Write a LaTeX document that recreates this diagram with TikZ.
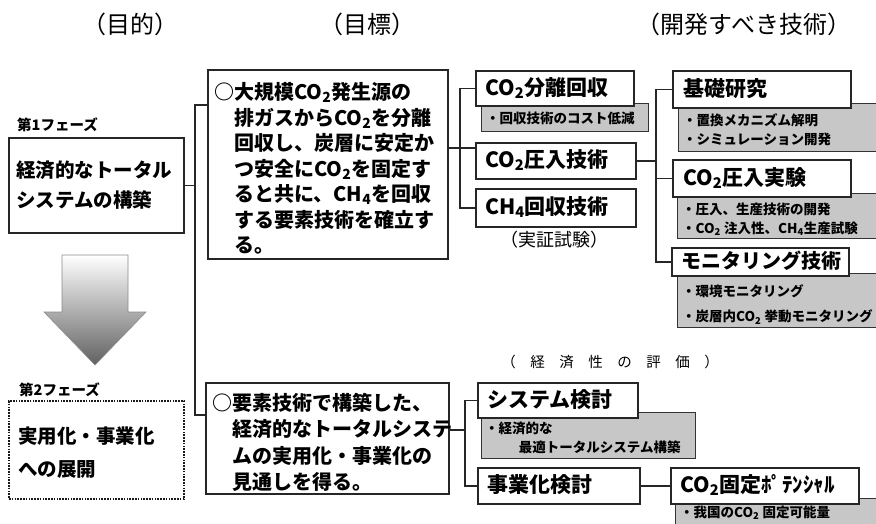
\documentclass[tikz,border=0pt]{standalone}
\usepackage{fontspec}
\setmainfont{Noto Sans CJK JP}
\newcommand\fs[2]{\fontsize{#1}{#2}\selectfont}
\newcommand\bx[6]{\node[#1, minimum width=#4-#2, minimum height=#5-#3] (#6) at (#2,#3) {};}
\begin{document}
\begin{tikzpicture}[x=1pt,y=-1pt,
  wbox/.style={draw=black!85, line width=1.6pt, fill=white, inner sep=0pt, anchor=north west},
  gbox/.style={draw=black!80, line width=1.3pt, fill=black!22, inner sep=0pt, anchor=north west},
  dbox/.style={draw=black!90, line width=1.8pt, dash pattern=on 1.6pt off 1.2pt, fill=white, inner sep=0pt, anchor=north west},
  conn/.style={draw=black!85, line width=1.6pt},
  hdr/.style={inner sep=0pt, font=\fs{24}{28}},
  lab/.style={inner sep=0pt, anchor=west, font=\bfseries\fs{14.5}{17}},
  big/.style={inner sep=0pt, anchor=west, align=left, font=\bfseries\fs{20}{25.5}},
  ttl/.style={inner sep=0pt, anchor=west, font=\bfseries\fs{21}{25}},
  sml/.style={inner sep=0pt, anchor=west, align=left, font=\bfseries\fs{13.5}{19}},
]
\useasboundingbox (0,0) rectangle (876,523);
\clip (0,0) rectangle (876,523);
\fill[white] (0,0) rectangle (876,523);

% headers
\node[hdr] (h1) at (130,24) {（目的）};
\node[hdr] (h2) at (367,24) {（目標）};
\node[hdr] (h3) at (744,24) {（開発すべき技術）};

% connector helper coordinates
\coordinate (a1) at (195,105);
\coordinate (a2) at (195,415);
\coordinate (bx) at (460,0);
\coordinate (bm) at (0,148);
\coordinate (cx) at (656,0);
\coordinate (dx) at (465,0);
\coordinate (dm) at (0,430);

% phase boxes and arrow
\bx{wbox}{8}{137}{183}{232}{p1}
\bx{dbox}{8}{400}{183}{498}{p2}
\node[lab] (ph1) at (17,125) {第1フェーズ};
\node[lab] (ph2) at (19,390) {第2フェーズ};
\node[big, font=\bfseries\fs{19.5}{30}] (p1t) at (16,185) {経済的なトータル\\システムの構築};
\node[big, font=\bfseries\fs{19.5}{33}] (p2t) at (18,453) {実用化・事業化\\への展開};
\shade[top color=white, bottom color=black!62, draw=black!45, line width=0.6pt]
  (62,255) -- (128,255) -- (128,312) -- (146,312) -- (95,365) -- (44,312) -- (62,312) -- cycle;

% goal boxes
\bx{wbox}{207}{69}{447}{258}{g1}
\bx{wbox}{205}{382}{448}{493}{g2}
\node[big] (g1t) at (214,168.5) {○大規模CO\textsubscript{2}発生源の\\
\hspace*{1em}排ガスからCO\textsubscript{2}を分離\\
\hspace*{1em}回収し、炭層に安定か\\
\hspace*{1em}つ安全にCO\textsubscript{2}を固定す\\
\hspace*{1em}ると共に、CH\textsubscript{4}を回収\\
\hspace*{1em}する要素技術を確立す\\
\hspace*{1em}る。};
\node[big, font=\bfseries\fs{20}{26.3}] (g2t) at (212,442.5) {○要素技術で構築した、\\
\hspace*{1em}経済的なトータルシステ\\
\hspace*{1em}ムの実用化・事業化の\\
\hspace*{1em}見通しを得る。};

\draw[conn] (p1.east) -- (p1.east -| a1);
\draw[conn] (a1 -| g1.west) -- (a1) -- (a2) -- (a2 -| g2.west);

% gray detail boxes
\bx{gbox}{481}{103}{648}{131}{gsep}
\bx{gbox}{678}{103}{890}{151}{gkiso}
\bx{gbox}{677}{193}{890}{238}{gjik}
\bx{gbox}{677}{273}{890}{327}{gmoni}
\bx{gbox}{481}{412}{695}{458}{gsys}
\bx{gbox}{675}{498}{890}{540}{gpot}

% technology boxes
\bx{wbox}{475}{70}{633}{105}{sep}
\bx{wbox}{475}{142}{635}{178}{inj}
\bx{wbox}{475}{188}{635}{226}{ch4}
\bx{wbox}{672}{70}{850}{107}{kiso}
\bx{wbox}{672}{159}{850}{196}{jik}
\bx{wbox}{671}{247}{848}{275}{moni}
\bx{wbox}{477}{382}{637}{417}{sys}
\bx{wbox}{477}{467}{639}{503}{jig}
\bx{wbox}{670}{467}{858}{503}{pot}

\draw[conn] (sep.west) -| (bx |- ch4.west) -- (ch4.west);
\draw[conn] (g1.east |- bm) -- (inj.west |- bm);
\draw[conn] (kiso.west) -| (cx |- moni.west) -- (moni.west);
\draw[conn] (jik.west) -- (jik.west -| cx);
\draw[conn] (inj.east) -- (inj.east -| cx);
\draw[conn] (sys.west) -| (dx |- jig.west) -- (jig.west);
\draw[conn] (g2.east |- dm) -- (dx |- dm);
\draw[conn] (jig.east) -- (pot.west |- jig.east);

% texts of technology boxes
\node[ttl] (sept) at (485,88) {CO\textsubscript{2}分離回収};
\node[ttl] (injt) at (485,160) {CO\textsubscript{2}圧入技術};
\node[ttl] (ch4t) at (485,207) {CH\textsubscript{4}回収技術};
\node[ttl] (kisot) at (683,89) {基礎研究};
\node[ttl] (jikt) at (683,178) {CO\textsubscript{2}圧入実験};
\node[ttl, font=\bfseries\fs{20}{24}] (monit) at (681,261) {モニタリング技術};
\node[ttl] (syst) at (487,400) {システム検討};
\node[ttl] (jigt) at (487,485) {事業化検討};
\node[ttl] (pott) at (680,485) {CO\textsubscript{2}固定ﾎﾟﾃﾝｼｬﾙ};

\node[hdr, font=\fs{18}{22}] (jsh) at (554,240) {（実証試験）};
\node[hdr, font=\fs{14.5}{18}] (kei) at (610,362) {（　経　済　性　の　評　価　）};

% gray texts
\node[sml] (gsept) at (486,118) {・回収技術のコスト低減};
\node[sml] (gkisot) at (683,129.5) {・置換メカニズム解明\\・シミュレーション開発};
\node[sml] (gjikt) at (682,219) {・圧入、生産技術の開発\\・CO\textsubscript{2} 注入性、CH\textsubscript{4}生産試験};
\node[sml, font=\bfseries\fs{13.5}{25}] (gmonit) at (682,304.5) {・環境モニタリング\\・炭層内CO\textsubscript{2} 挙動モニタリング};
\node[sml] (gsyst) at (485,437.5) {・経済的な\\\hspace*{2.5em}最適トータルシステム構築};
\node[sml] (gpott) at (680,513) {・我国のCO\textsubscript{2} 固定可能量};
\end{tikzpicture}
\end{document}
